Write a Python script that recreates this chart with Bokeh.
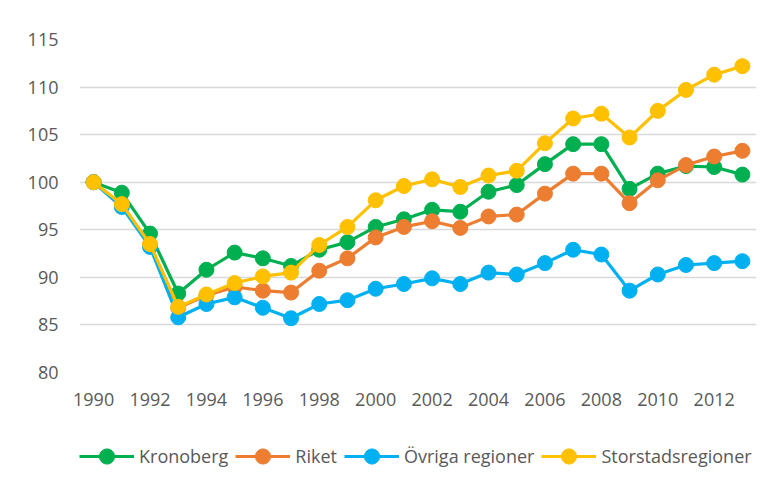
from bokeh.plotting import figure
from bokeh.layouts import column
from bokeh.models import Range1d, FixedTicker, Legend, LegendItem
from bokeh.embed import file_html
from bokeh.resources import INLINE

years = list(range(1990, 2014))
kronoberg = [100.0, 98.9, 94.6, 88.3, 90.8, 92.6, 92.0, 91.2, 92.9, 93.7, 95.3, 96.1,
             97.1, 96.9, 99.0, 99.7, 101.9, 104.0, 104.0, 99.3, 100.9, 101.7, 101.6, 100.8]
riket = [100.0, 97.6, 93.4, 86.8, 88.1, 89.0, 88.6, 88.4, 90.7, 92.0, 94.2, 95.3,
         95.9, 95.2, 96.4, 96.6, 98.8, 100.9, 100.9, 97.8, 100.2, 101.8, 102.7, 103.3]
ovriga = [100.0, 97.4, 93.2, 85.8, 87.2, 87.9, 86.8, 85.7, 87.2, 87.6, 88.8, 89.3,
          89.9, 89.3, 90.5, 90.3, 91.5, 92.9, 92.4, 88.6, 90.3, 91.3, 91.5, 91.7]
storstad = [100.0, 97.7, 93.5, 86.9, 88.2, 89.4, 90.1, 90.5, 93.4, 95.3, 98.1, 99.6,
            100.3, 99.5, 100.7, 101.2, 104.1, 106.7, 107.2, 104.7, 107.5, 109.7, 111.3, 112.2]
series_names = ["Kronoberg", "Riket", "Övriga regioner", "Storstadsregioner"]
series_values = [kronoberg, riket, ovriga, storstad]
colors = ["#00B050", "#ED7D31", "#00B0F0", "#FFC000"]
x_ticks = list(range(1990, 2013, 2))
y_ticks = list(range(80, 116, 5))

FONT = "Open Sans"
TXT = "#595959"

# main chart
p = figure(width=781, height=431, output_backend="svg", toolbar_location=None,
           x_range=Range1d(1989.5, 2013.5), y_range=Range1d(80, 115),
           min_border_left=79, min_border_right=25, min_border_top=39,
           min_border_bottom=59)
p.outline_line_color = None
p.background_fill_color = "white"
p.border_fill_color = "white"
p.xgrid.visible = False
p.ygrid.grid_line_color = "#d9d9d9"
p.ygrid.grid_line_width = 1.5

for ax in (p.xaxis[0], p.yaxis[0]):
    ax.axis_line_color = None
    ax.major_tick_line_color = None
    ax.minor_tick_line_color = None
    ax.major_tick_in = 0
    ax.major_tick_out = 0
    ax.minor_tick_in = 0
    ax.minor_tick_out = 0
    ax.major_label_text_font = FONT
    ax.major_label_text_font_size = "18px"
    ax.major_label_text_color = TXT
p.xaxis.ticker = FixedTicker(ticks=x_ticks)
p.yaxis.ticker = FixedTicker(ticks=y_ticks)
p.xaxis.major_label_standoff = 20
p.yaxis.major_label_standoff = 21

for name, vals, c in zip(series_names, series_values, colors):
    p.line(years, vals, line_color=c, line_width=3.2)
    p.scatter(years, vals, size=15, fill_color=c, line_color=c)

# legend strip (same series, drawn out of view; only the legend is visible)
p2 = figure(width=781, height=50, output_backend="svg", toolbar_location=None,
            x_range=Range1d(0, 1), y_range=Range1d(0, 1),
            x_axis_location=None, y_axis_location=None,
            min_border_left=0, min_border_right=0, min_border_top=0,
            min_border_bottom=0)
p2.outline_line_color = None
p2.grid.visible = False
p2.border_fill_color = "white"

items = []
for name, vals, c in zip(series_names, series_values, colors):
    l = p2.line(years, vals, line_color=c, line_width=3.2)
    s = p2.scatter(years, vals, size=15, fill_color=c, line_color=c)
    items.append(LegendItem(label=name, renderers=[l, s]))

legend = Legend(items=items, orientation="horizontal", location="center_left",
                glyph_width=55, glyph_height=38, label_standoff=5, spacing=7,
                padding=0, margin=0, border_line_color=None,
                background_fill_alpha=0,
                label_text_font=FONT, label_text_font_size="18px",
                label_text_color=TXT)
p2.add_layout(legend, "center")

layout = column(p, p2, spacing=0)
open("out.html", "w").write(file_html(layout, INLINE))
